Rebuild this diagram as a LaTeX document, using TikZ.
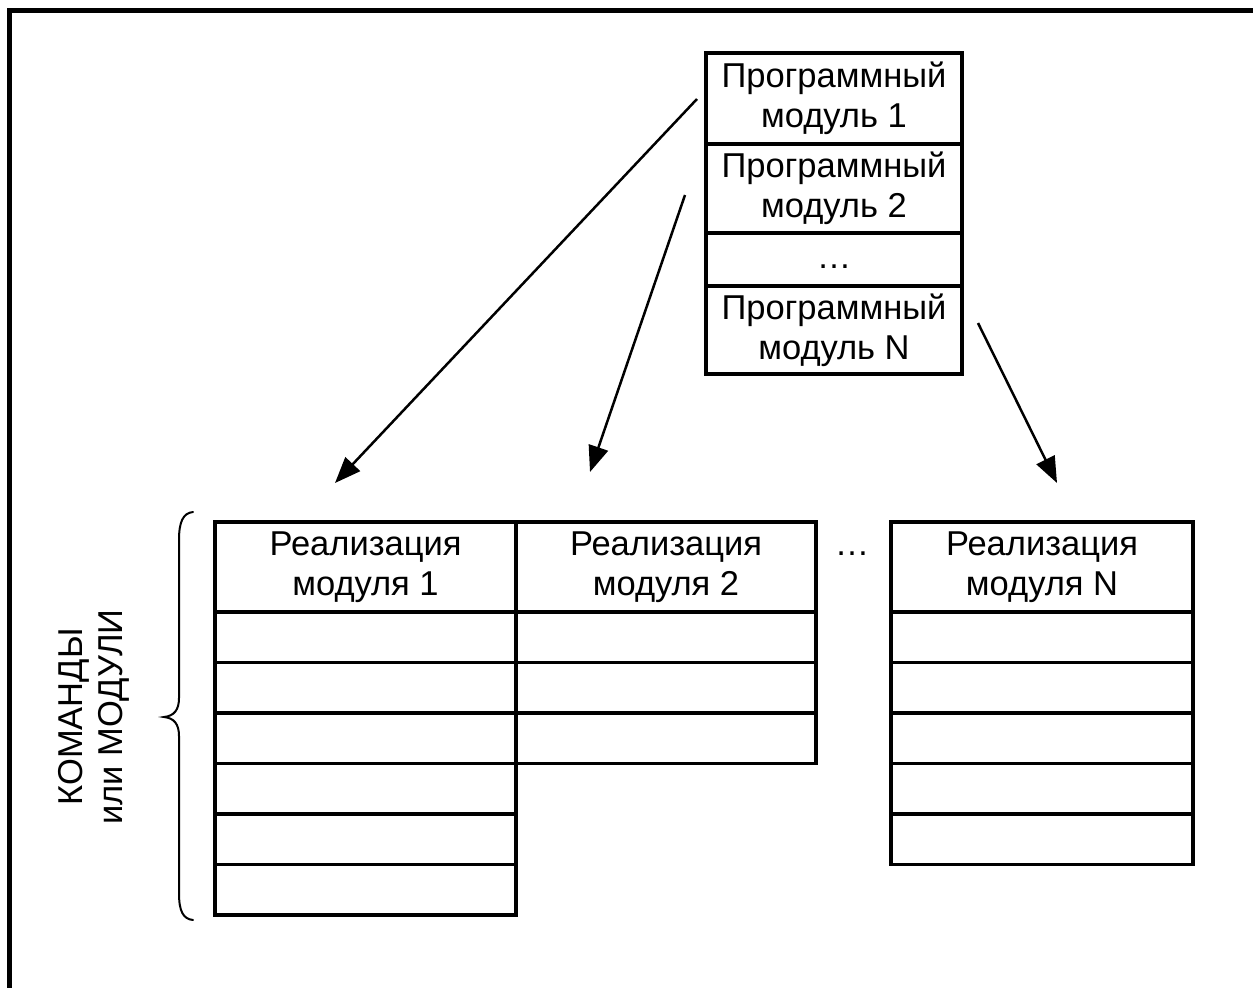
\documentclass[tikz,border=0pt]{standalone}
\usepackage{fontspec}
\setmainfont{Liberation Sans}
\usetikzlibrary{arrows.meta}
\begin{document}
\begin{tikzpicture}[x=1bp,y=-1bp,
  txt/.style={font=\fontsize{34.5bp}{40bp}\selectfont},
  cell/.style={draw, line width=3.5bp, inner sep=0pt, outer sep=0pt,
    align=center, txt},
  hdr/.style={cell, minimum height=90bp},
  row/.style={cell, minimum height=50.5bp},
  arr/.style={line width=2.5bp, -{Triangle[length=26bp,width=20bp]}},
  frame/.style={line width=5bp},
  brace/.style={line width=2bp, line cap=round}]
\useasboundingbox (0,0) rectangle (1253,988);
\clip (0,0) rectangle (1253,988);

% outer frame (top and left edges)
\draw[frame] (9.5,1000) -- (9.5,10.5) -- (1270,10.5);

% stack of program modules
\begin{scope}[every node/.append style={cell, minimum width=256bp}]
  \node[minimum height=91bp] (m1) at (834,98.5) {Программный\\модуль 1};
  \node[minimum height=89bp] (m2) at (834,188.5) {Программный\\модуль 2};
  \node[minimum height=53bp] (md) at (834,259.5) {};
  \node[minimum height=88bp] (mn) at (834,330) {Программный\\модуль N};
\end{scope}
\node[txt, anchor=base] (mdots) at (834,268) {…};

% implementation tables
\node[hdr, minimum width=301bp] (t1) at (365.5,567) {Реализация\\модуля 1};
\foreach \i in {1,...,6}
  \node[row, minimum width=301bp] (t1-\i) at (365.5,{612+50.5*(\i-0.5)}) {};

\node[hdr, minimum width=300bp] (t2) at (666,567) {Реализация\\модуля 2};
\foreach \i in {1,...,3}
  \node[row, minimum width=300bp] (t2-\i) at (666,{612+50.5*(\i-0.5)}) {};

\node[hdr, minimum width=302bp] (tn) at (1042,567) {Реализация\\модуля N};
\foreach \i in {1,...,5}
  \node[row, minimum width=302bp] (tn-\i) at (1042,{612+50.5*(\i-0.5)}) {};

\node[txt, anchor=base] (tdots) at (852,555) {…};

% arrows from the modules to their implementations
\coordinate (s1) at (697,99);   \coordinate (e1) at (335,483);
\coordinate (s2) at (685,195);  \coordinate (e2) at (590,472);
\coordinate (sn) at (978,323);  \coordinate (en) at (1057,483);
\draw[arr] (s1) -- (e1);
\draw[arr] (s2) -- (e2);
\draw[arr] (sn) -- (en);

% brace and its label
\draw[brace] (193,512) .. controls (183,513) and (179,522) .. (179,540)
  -- (179,698) .. controls (179,710) and (174,716) .. (164,717)
  .. controls (174,718) and (179,724) .. (179,736)
  -- (179,893) .. controls (179,911) and (183,919) .. (193,920);
\node[txt, rotate=90, align=center] (lbl) at (94,717) {КОМАНДЫ\\или МОДУЛИ};
\end{tikzpicture}
\end{document}
